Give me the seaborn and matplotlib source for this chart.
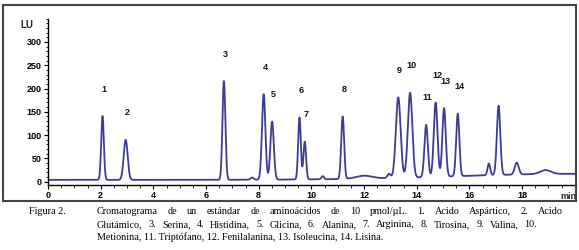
import numpy as np
import pandas as pd
import matplotlib
matplotlib.use('Agg')
import matplotlib.pyplot as plt
from matplotlib.patches import Rectangle
from matplotlib.ticker import MultipleLocator
import seaborn as sns

# labelled amino acid peaks: retention time (min), apex signal (LU), peak sigma (min)
peak_labels = ['1', '2', '3', '4', '5', '6', '7', '8', '9', '10', '11', '12', '13', '14']
peak_rt = [2.07, 2.95, 6.68, 8.19, 8.51, 9.55, 9.75, 11.19, 13.30, 13.75, 14.36, 14.72, 15.04, 15.56]
peak_lu = [141, 90, 216, 188, 129, 138, 86, 140, 181, 191, 122, 170, 158, 146]
peak_sigma = [0.05, 0.075, 0.055, 0.065, 0.065, 0.05, 0.05, 0.055, 0.09, 0.085, 0.065, 0.07, 0.065, 0.06]

# unlabelled peaks / bumps
minor_rt = [7.75, 10.43, 12.0, 12.95, 16.74, 17.11, 17.80, 18.89]
minor_lu = [9, 12, 13, 17, 39, 163, 41, 25]
minor_sigma = [0.06, 0.05, 0.3, 0.06, 0.05, 0.065, 0.075, 0.2]

# baseline level and late gradient drift
baseline_lu = 4
drift_rt, drift_lu, drift_sigma = 20.0, 13.0, 4.5

caption_head = 'Figura 2.'
caption_lines = [
    'Cromatograma de un estándar de aminoácidos de 10 pmol/µL. 1. Acido Aspártico, 2. Acido',
    'Glutámico, 3. Serina, 4. Histidina, 5. Glicina, 6. Alanina, 7. Arginina, 8. Tirosina, 9. Valina, 10.',
    'Metionina, 11. Triptófano, 12. Fenilalanina, 13. Isoleucina, 14. Lisina.',
]

W, H = 579, 250
sns.set_theme(style='white')
plt.rcParams['font.family'] = ['Liberation Sans', 'DejaVu Sans']


def base(t):
    return baseline_lu + drift_lu * np.exp(-(t - drift_rt) ** 2 / (2 * drift_sigma ** 2))


t = np.linspace(0, 20.1, 5000)
signal = base(t)
for rt, lu, sg in zip(peak_rt + minor_rt, peak_lu + minor_lu, peak_sigma + minor_sigma):
    signal = signal + (lu - base(rt)) * np.exp(-(t - rt) ** 2 / (2 * sg ** 2))
df = pd.DataFrame({'min': t, 'LU': signal})

fig = plt.figure(figsize=(W / 100, H / 100), dpi=100)
fig.patch.set_facecolor('white')
ax = fig.add_axes([48 / W, 1 - 185 / H, (576 - 48) / W, (185 - 18.6) / H])

sns.lineplot(data=df, x='min', y='LU', ax=ax, color='#3c3c96', linewidth=1.3)

ax.set_xlim(0, 20.05)
ax.set_ylim(-7, 350)
ax.set_xlabel('')
ax.set_ylabel('')
for s in ['top', 'right']:
    ax.spines[s].set_visible(False)
for s in ['left', 'bottom']:
    ax.spines[s].set_color('black')
    ax.spines[s].set_linewidth(1.0)

ax.xaxis.set_minor_locator(MultipleLocator(0.5))
ax.yaxis.set_minor_locator(MultipleLocator(10))
ax.set_xticks(np.arange(0, 19, 2))
ax.set_yticks(np.arange(0, 301, 50))
ax.tick_params(axis='both', which='major', direction='out', length=3, width=0.8,
               colors='black', labelsize=6.5, pad=1.5, bottom=True, left=True)
ax.tick_params(axis='both', which='minor', direction='out', length=1.8, width=0.6,
               colors='black', bottom=True, left=True)
for lab in ax.get_xticklabels() + ax.get_yticklabels():
    lab.set_fontweight('bold')

ax.text(-0.028, 337, 'LU', transform=ax.get_yaxis_transform(), ha='right', va='center',
        fontsize=7, fontweight='bold')
ax.text(1.0, -0.045, 'min', transform=ax.transAxes, ha='right', va='top',
        fontsize=6.5, fontweight='bold')

for lab, rt, lu in zip(peak_labels, peak_rt, peak_lu):
    ax.annotate(lab, xy=(rt, lu), xytext=(1.5, 27), textcoords='offset pixels',
                ha='center', va='center', fontsize=6.5, fontweight='bold', color='#111111')

# outer frame
fig.patches.append(Rectangle((3 / W, 1 - 201 / H), (576 - 3) / W, (201 - 5) / H,
                             transform=fig.transFigure, fill=False,
                             edgecolor='#444444', linewidth=1.5))

# caption, first two lines justified like the original
cap_kw = dict(fontsize=7.3, family='Liberation Serif', va='baseline', color='black')
fig.text(29 / W, 1 - 214 / H, caption_head, **cap_kw)
fig.canvas.draw()
renderer = fig.canvas.get_renderer()
line_y = [214, 227, 240]
line_end = [563, 537, None]
for line, y, x_end in zip(caption_lines, line_y, line_end):
    if x_end is None:
        fig.text(97 / W, 1 - y / H, line, **cap_kw)
        continue
    words = line.split(' ')
    texts = [fig.text(0, 1 - y / H, w, **cap_kw) for w in words]
    widths = [tx.get_window_extent(renderer).width for tx in texts]
    gap = (x_end - 97 - sum(widths)) / (len(words) - 1)
    x = 97
    for tx, w in zip(texts, widths):
        tx.set_x(x / W)
        x += w + gap

fig.savefig('out.png', dpi=100)
